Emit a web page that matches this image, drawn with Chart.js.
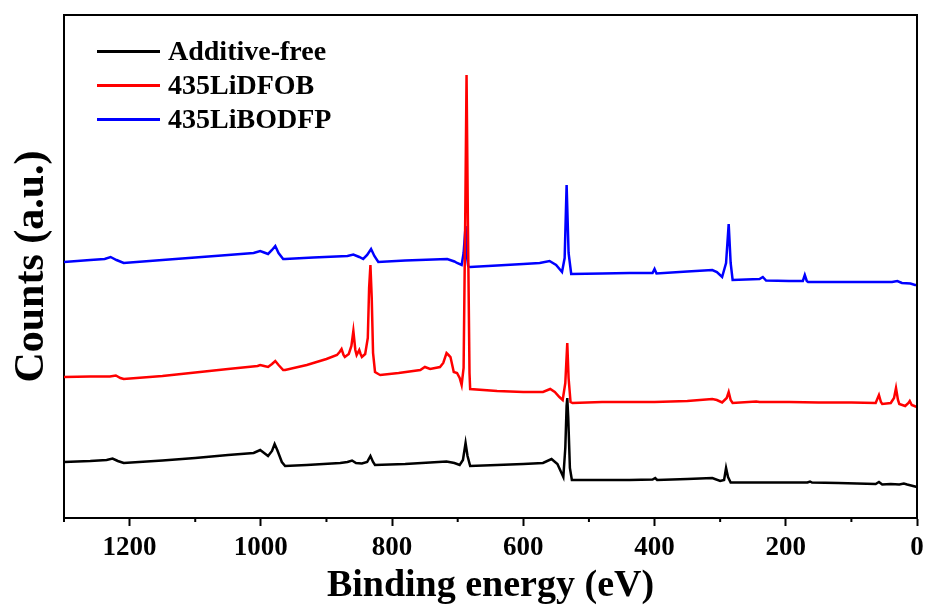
<!DOCTYPE html>
<html>
<head>
<meta charset="utf-8">
<title>XPS survey spectra</title>
<script src="https://cdn.jsdelivr.net/npm/chart.js@4.4.1/dist/chart.umd.min.js"></script>
<style>
  html, body { margin: 0; padding: 0; background: #fff; }
</style>
</head>
<body>
<canvas id="xpsChart" width="927" height="609"></canvas>
<script>
// --- data: binding energy (eV) and counts (a.u.) per electrolyte ---
const seriesNames = ['Additive-free', '435LiDFOB', '435LiBODFP'];
const seriesColors = ['#000000', '#ff0000', '#0000ff'];

const freeEnergy = [1300, 1260, 1235, 1226, 1218, 1209, 1150, 1100, 1050, 1011, 1001, 995, 989, 983, 979, 975, 968, 963,
  930, 879, 868, 861, 855, 846, 838, 833, 829, 826, 780, 717, 705, 697, 692, 688, 685, 681, 640, 600, 570, 557, 548,
  539, 536, 534, 533, 531.5, 529, 526, 480, 438, 403, 399, 396, 350, 312, 300, 294, 291, 288, 284, 280, 230, 200,
  167, 163, 160, 120, 63, 58, 53, 40, 27, 20, 15, 3, 0];
const freeCounts = [56, 57, 58, 59.5, 57, 55, 57.5, 60, 63, 65, 68, 65, 62, 67, 74, 68, 56, 52,
  53, 55, 56, 57.5, 55, 54.5, 56, 62, 56, 53, 54, 56.5, 55, 53, 58, 75, 62, 52, 53, 54, 55, 59, 54,
  41, 70, 112, 120, 100, 50, 38, 38, 38, 38.5, 40, 38, 39, 40, 37, 38, 50, 41, 35.5, 35.5, 35.5, 35.5,
  35.5, 36.5, 35.5, 35, 34, 36, 33.5, 34, 33.5, 34.5, 33.5, 31.5, 31];

const dfobEnergy = [1300, 1260, 1230, 1221, 1214, 1209, 1150, 1100, 1050, 1005, 1001, 995, 989, 983, 978, 973, 966, 963,
  930, 900, 884, 880, 877, 874, 872, 866, 862, 859, 856, 854, 850, 848, 846, 841, 837, 835, 833, 831, 829, 826, 821, 818,
  790, 757, 750, 742, 727, 722, 717, 714, 711, 708, 706, 701, 697, 694, 691, 688.5, 686.5, 684.5, 682, 681,
  640, 600, 570, 559, 552, 545, 540, 536, 533, 531, 528, 525, 480, 438, 400, 350, 312, 305, 297, 290, 287, 284, 281,
  245, 240, 195, 150, 100, 63, 58, 55, 53, 40, 35, 32, 29, 27, 18, 13, 11, 8, 4, 0];
const dfobCounts = [141, 141.5, 141.5, 142.5, 140, 139, 142, 145.5, 149, 152, 153, 152, 151, 154, 157, 153, 148, 148,
  153, 159, 163, 166, 169, 163, 161, 164, 172, 187, 168, 163, 168, 164, 161, 164, 180, 230, 253, 220, 165, 146, 144, 143,
  145, 148, 151, 149, 151, 155, 165, 163, 161, 152, 146, 145, 140, 133, 150, 300, 443, 300, 145, 129,
  127, 126, 126, 129, 126, 121, 118, 135, 175, 140, 116, 115, 116, 116, 116, 117, 119, 118, 115.5, 120, 126, 118, 115,
  116.5, 116, 116, 115.5, 115.5, 115, 123, 116, 114, 115, 120, 130, 118, 114, 112, 115, 117, 113, 112, 111];

const bodfpEnergy = [1300, 1260, 1238, 1229, 1220, 1209, 1150, 1100, 1050, 1011, 1001, 995, 989, 983, 978, 973, 966, 963,
  920, 868, 859, 850, 844, 838, 832, 827, 821, 780, 716, 705, 701, 694, 691, 688, 686, 684, 681,
  640, 600, 575, 560, 550, 541, 537, 534, 531, 527, 480, 438, 403, 400, 397, 350, 312, 305, 297, 291, 287, 284, 281,
  240, 235, 230, 195, 174, 171, 168, 166, 100, 38, 30, 23, 10, 3, 0];
const bodfpCounts = [256, 258, 259, 261, 258, 255, 258, 260.5, 263, 265, 267, 265.5, 264, 268, 272, 265, 259, 259,
  260.5, 262, 263.5, 261, 259, 263, 269, 262, 256, 257.5, 259, 256.5, 255, 253, 265, 292, 262, 252, 251,
  252.5, 254, 255, 257, 253, 246, 260, 333, 265, 244, 244.5, 245, 245, 249, 244.5, 246.5, 248, 246, 241, 255, 294, 255, 238,
  239, 241, 237.5, 237, 237, 243, 237, 236, 236, 236, 237, 235, 234.5, 233, 233];

// axis ticks
const majorTicks = [0, 200, 400, 600, 800, 1000, 1200];
const minorTicks = [100, 300, 500, 700, 900, 1100, 1300];

const FONT = 'Liberation Serif';

const toPoints = (xs, ys) => xs.map((x, i) => ({ x: x, y: ys[i] }));
const seriesPoints = [
  toPoints(freeEnergy, freeCounts),
  toPoints(dfobEnergy, dfobCounts),
  toPoints(bodfpEnergy, bodfpCounts)
];

// frame on top/right, minor ticks and the legend box in the upper left
const framePlugin = {
  id: 'frameAndLegend',
  afterDraw(chart) {
    const { ctx, chartArea: a, scales } = chart;
    ctx.save();
    ctx.strokeStyle = '#000';
    ctx.lineWidth = 2;
    ctx.beginPath();
    ctx.moveTo(a.left - 1, a.top);
    ctx.lineTo(a.right, a.top);
    ctx.lineTo(a.right, a.bottom + 1);
    minorTicks.forEach(v => {
      const px = scales.x.getPixelForValue(v);
      ctx.moveTo(px, a.bottom);
      ctx.lineTo(px, a.bottom + 4);
    });
    ctx.stroke();

    ctx.font = 'bold 28px "' + FONT + '"';
    ctx.textBaseline = 'middle';
    ctx.textAlign = 'left';
    chart.data.datasets.forEach((ds, i) => {
      const y = a.top + 36.5 + i * 34;
      ctx.strokeStyle = ds.borderColor;
      ctx.lineWidth = 3;
      ctx.beginPath();
      ctx.moveTo(a.left + 33, y);
      ctx.lineTo(a.left + 96, y);
      ctx.stroke();
      ctx.fillStyle = '#000';
      ctx.fillText(ds.label, a.left + 104, y + 1);
    });
    ctx.restore();
  }
};

new Chart(document.getElementById('xpsChart'), {
  type: 'line',
  data: {
    datasets: seriesNames.map((name, i) => ({
      label: name,
      data: seriesPoints[i],
      borderColor: seriesColors[i],
      backgroundColor: seriesColors[i],
      borderWidth: 2.5,
      pointRadius: 0,
      tension: 0
    }))
  },
  options: {
    responsive: false,
    animation: false,
    layout: { padding: { top: 15, right: 10, left: 0, bottom: 0 } },
    plugins: {
      legend: { display: false },
      tooltip: { enabled: false }
    },
    scales: {
      x: {
        type: 'linear',
        reverse: true,
        min: 0,
        max: 1300,
        afterBuildTicks: (scale) => { scale.ticks = majorTicks.map(v => ({ value: v })); },
        afterFit: (scale) => { scale.height = 91; },
        border: { display: true, color: '#000', width: 2 },
        grid: { drawOnChartArea: false, drawTicks: true, tickLength: 8, tickWidth: 2, tickColor: '#000' },
        ticks: {
          color: '#000',
          padding: 6,
          maxRotation: 0,
          autoSkip: false,
          callback: (value) => String(value),
          font: { family: FONT, size: 27, weight: 'bold' }
        },
        title: {
          display: true,
          text: 'Binding energy (eV)',
          color: '#000',
          padding: { top: 0, bottom: 0 },
          font: { family: FONT, size: 38, weight: 'bold' }
        }
      },
      y: {
        min: 0,
        max: 503,
        afterFit: (scale) => { scale.width = 64; },
        border: { display: true, color: '#000', width: 2 },
        grid: { display: false },
        ticks: { display: false },
        title: {
          display: true,
          text: 'Counts (a.u.)',
          color: '#000',
          padding: { top: 7, bottom: 0 },
          font: { family: FONT, size: 42, weight: 'bold' }
        }
      }
    }
  },
  plugins: [framePlugin]
});
</script>
</body>
</html>
